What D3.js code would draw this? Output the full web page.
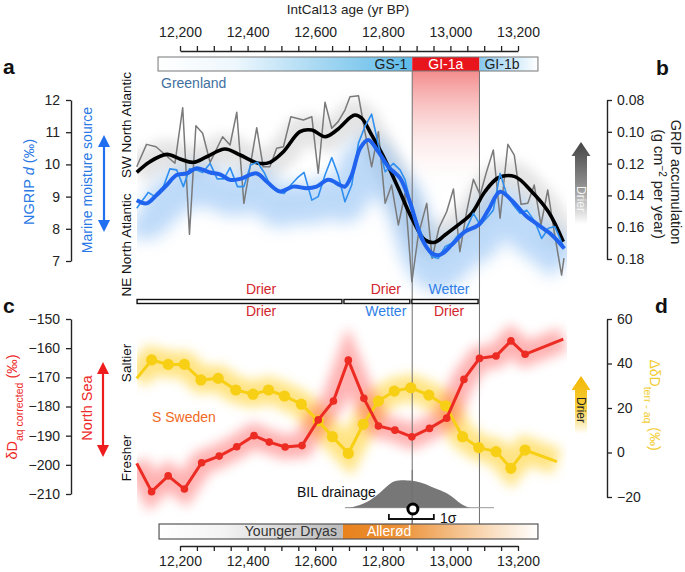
<!DOCTYPE html>
<html><head><meta charset="utf-8">
<script src="https://cdn.jsdelivr.net/npm/d3@7"></script>
<style>
body{margin:0;background:#fff}
svg text{font-family:"Liberation Sans",Arial,Helvetica,sans-serif}
</style>
</head><body>
<svg id="chart" width="685" height="572"></svg>
<script>
// ---------------- DATA ----------------
const axisTicks = d3.range(12200, 13201, 50);

// GRIP accumulation (raw, grey) – right axis b
const gripAges = [12072,12101,12129,12151,12185,12208,12228,12247,12267,12289,12326,12348,12368,12389,12427,12446,12466,12486,12506,12528,12565,12590,12609,12629,12649,12668,12688,12703,12728,12747,12767,12787,12807,12826,12846,12866,12886,12905,12930,12946,12966,12989,13009,13028,13048,13068,13088,13107,13127,13147,13170,13189,13209,13229,13248,13268,13288,13307,13329,13336];
const gripVals = [0.1220,0.1079,0.1094,0.1135,0.1198,0.0848,0.1645,0.0962,0.1009,0.1192,0.1031,0.1083,0.0877,0.1450,0.0974,0.1220,0.1220,0.1104,0.1094,0.0905,0.0926,0.0905,0.1261,0.0814,0.0978,0.0936,0.0863,0.0779,0.0773,0.0999,0.1220,0.0999,0.1450,0.1335,0.1586,0.1387,0.1943,0.1649,0.1450,0.1796,0.1605,0.1503,0.1360,0.1754,0.1503,0.1299,0.1397,0.1251,0.1114,0.1544,0.1079,0.1146,0.1456,0.1450,0.1335,0.1586,0.1366,0.1628,0.1901,0.1794];

// GRIP accumulation smoothed (black)
const gripSmAges = [12072,12111,12161,12200,12239,12279,12333,12378,12432,12466,12506,12555,12590,12629,12664,12703,12718,12738,12767,12807,12846,12886,12925,12954,12984,13023,13063,13102,13142,13191,13241,13290,13334];
const gripSmVals = [0.1255,0.1188,0.1142,0.1171,0.1192,0.1157,0.1108,0.1146,0.1198,0.1192,0.1125,0.0999,0.0989,0.1031,0.0989,0.0911,0.0894,0.0915,0.1020,0.1177,0.1355,0.1544,0.1681,0.1695,0.1649,0.1586,0.1513,0.1377,0.1289,0.1282,0.1377,0.1503,0.1691];

// NGRIP d-excess raw (thin blue) – left axis a
const ngripAges = [12072,12106,12126,12151,12170,12190,12210,12228,12247,12267,12289,12310,12330,12348,12370,12389,12409,12429,12449,12468,12488,12508,12528,12547,12567,12590,12609,12629,12649,12668,12688,12708,12728,12747,12767,12787,12807,12831,12851,12866,12886,12905,12925,12945,12964,12984,13004,13023,13043,13068,13088,13107,13127,13147,13167,13186,13206,13226,13250,13270,13290,13309,13337];
const ngripVals = [8.64,9.13,9.00,9.31,9.86,9.83,9.31,9.86,9.83,9.75,10.03,9.55,9.55,9.90,9.31,9.31,9.98,10.07,9.75,9.31,9.15,9.10,9.36,9.58,9.75,8.89,9.00,9.67,10.21,9.67,8.84,9.36,10.66,11.17,11.56,10.60,9.77,10.03,9.83,9.52,8.64,8.12,7.55,7.13,7.08,7.44,7.55,7.81,7.91,8.48,8.12,8.33,8.58,9.72,9.05,8.74,8.48,8.58,8.22,7.70,8.02,8.07,7.39];

// NGRIP d-excess smoothed (thick blue)
const ngripSmAges = [12072,12101,12131,12161,12190,12220,12249,12289,12318,12348,12378,12427,12457,12496,12535,12575,12604,12639,12673,12688,12708,12733,12757,12787,12816,12851,12880,12915,12945,12969,13004,13043,13083,13112,13147,13181,13221,13260,13300,13337];
const ngripSmVals = [8.89,8.79,9.05,9.36,9.67,9.72,9.88,9.75,9.69,9.52,9.55,9.72,9.46,9.16,9.31,9.26,9.31,9.52,9.36,9.31,9.67,10.50,10.76,10.39,9.93,9.57,8.84,7.70,7.24,7.19,7.50,7.91,8.12,8.58,9.15,8.89,8.43,8.12,7.81,7.39];

// dD aq corrected (red) – left axis c
const dDaqAges = [12072,12116,12165,12213,12264,12316,12368,12419,12464,12511,12561,12609,12654,12698,12744,12787,12836,12886,12938,12989,13040,13086,13135,13179,13221,13334];
const dDaqVals = [-199.5,-209.2,-203.8,-208.3,-199.3,-197.0,-193.8,-190.0,-192.2,-193.9,-193.4,-184.6,-178.1,-164.1,-177.2,-186.7,-188.1,-190.4,-187.5,-184.0,-170.7,-163.5,-162.7,-157.5,-162.1,-156.9];

// Delta dD terr-aq (yellow) – right axis d
const ddTerrAges = [12072,12116,12165,12213,12262,12313,12365,12416,12462,12509,12559,12609,12651,12698,12742,12787,12834,12883,12936,12986,13036,13084,13135,13179,13221,13315];
const ddTerrVals = [33.3,41.6,39.6,39.6,32.6,33.3,28.1,26.2,28.1,25.4,21.7,14.2,7.1,-0.4,12.7,23.1,27.6,29.1,25.8,21.0,7.1,2.2,0.4,-7.1,1.1,-4.1];

// BIL drainage age distribution
const bilAges = [12688,12712,12747,12777,12806,12830,12851,12889,12910,12940,12969,12990,13014,13034,13058];
const bilDensity = [0,0.02,0.15,0.38,0.71,0.96,1.0,0.98,0.92,0.78,0.63,0.53,0.31,0.10,0];
const bilBaseRange = [12688, 13129];
const bilAge = 12889, bilSigma = [12818, 12951];

// Event boundaries (GI-1a)
const eventLines = [12887, 13086];

// Stratigraphic bars
const topPeriodNames = ["GS-1","GI-1a","GI-1b"];
const topPeriodStart = [12135,12887,13086];
const topPeriodEnd   = [12887,13086,13259];
const botPeriodNames = ["Younger Dryas","Allerød"];
const botPeriodStart = [12138,12682];
const botPeriodEnd   = [12682,13259];

// Drier / Wetter segments
const segStart = [12073,12685,12886];
const segEnd   = [12679,12880,13082];
const segLabelAges = [12440,12809,12996];
const segUpper = ["Drier","Drier","Wetter"];
const segLower = ["Drier","Wetter","Drier"];

const ticksA = [7,8,9,10,11,12];
const ticksB = [0.08,0.10,0.12,0.14,0.16,0.18];
const ticksC = [-210,-200,-190,-180,-170,-160,-150];
const ticksD = [-20,0,20,40,60];

// ---------------- SCALES ----------------
const svg = d3.select("#chart");
const FONT = '"Liberation Sans",Arial,Helvetica,sans-serif';
const x  = d3.scaleLinear().domain([12200,13200]).range([180,518]);
const yA = d3.scaleLinear().domain([7,12]).range([261,100]);
const yB = d3.scaleLinear().domain([0.08,0.18]).range([100,259]);
const yC = d3.scaleLinear().domain([-210,-150]).range([494,319]);
const yD = d3.scaleLinear().domain([-20,60]).range([497,319]);
const yBil = d3.scaleLinear().domain([0,1]).range([507.7,480]);

const RED = "#ec2b23", YEL = "#f7cf14", BLUE = "#1f63ee", BLUE2 = "#2f8ff0";

// ---------------- DEFS ----------------
const defs = svg.append("defs");
function blur(id, sd){
  defs.append("filter").attr("id",id).attr("filterUnits","userSpaceOnUse")
    .attr("x",0).attr("y",0).attr("width",685).attr("height",572)
    .append("feGaussianBlur").attr("stdDeviation",sd);
}
blur("b6",6); blur("b8",8); blur("b5",5);
defs.append("clipPath").attr("id","plotclip").append("rect")
  .attr("x",137).attr("y",60).attr("width",430).attr("height",470);
function lgrad(id, stops, vertical){
  const g = defs.append("linearGradient").attr("id",id)
    .attr("x1",0).attr("y1",0).attr("x2",vertical?0:1).attr("y2",vertical?1:0);
  stops.forEach(s=>g.append("stop").attr("offset",s[0]).attr("stop-color",s[1]).attr("stop-opacity",s[2]===undefined?1:s[2]));
}
lgrad("gGS1",[[0,"#ffffff"],[0.3,"#eef7fd"],[0.62,"#aad9f3"],[1,"#5cbbe9"]]);
lgrad("gGI1b",[[0,"#86c8ee"],[0.5,"#c6e6f8"],[1,"#ffffff"]]);
lgrad("gYD",[[0,"#ffffff"],[0.35,"#f3f3f3"],[1,"#bcbcbc"]]);
lgrad("gAll",[[0,"#e8821d"],[0.3,"#ec9238"],[0.75,"#f9dcbc"],[1,"#ffffff"]]);
lgrad("gRedBox",[[0,"#f06666",0.75],[0.55,"#f8c0c0",0.35],[1,"#ffffff",0]],true);
lgrad("gGrayArrow",[[0,"#444444"],[0.5,"#8a8a8a"],[1,"#ffffff"]],true);
lgrad("gYelArrow",[[0,"#f2b600"],[0.55,"#f7cf40"],[1,"#ffffff"]],true);

// ---------------- TOP AXIS + BAR ----------------
const fmt = d3.format(",");
function styleAxis(g){
  g.select(".domain").attr("stroke","#222").attr("stroke-width",1.4);
  g.selectAll(".tick line").attr("stroke","#222").attr("stroke-width",1.3);
  g.selectAll(".tick text").attr("fill","#222").style("font-size","14px").style("font-family",FONT);
}
svg.append("g").attr("transform","translate(0,51)")
  .call(d3.axisTop(x).tickValues(axisTicks).tickFormat(d=>d%200===0?fmt(d):"").tickSize(5).tickSizeOuter(0).tickPadding(9))
  .call(styleAxis);
svg.append("text").attr("x",348).attr("y",14).attr("text-anchor","middle")
  .style("font-size","13.5px").attr("fill","#222").text("IntCal13 age (yr BP)");

// red shaded GI-1a region
svg.append("rect").attr("x",x(eventLines[0])).attr("width",x(eventLines[1])-x(eventLines[0]))
  .attr("y",71).attr("height",125).attr("fill","url(#gRedBox)");

const topFills = ["url(#gGS1)","#e8161c","url(#gGI1b)"];
svg.append("g").selectAll("rect").data(topPeriodNames).join("rect")
  .attr("x",(d,i)=>x(topPeriodStart[i])).attr("width",(d,i)=>x(topPeriodEnd[i])-x(topPeriodStart[i]))
  .attr("y",57).attr("height",14).attr("fill",(d,i)=>topFills[i]);
svg.append("rect").attr("x",x(topPeriodStart[0])).attr("y",57)
  .attr("width",x(topPeriodEnd[2])-x(topPeriodStart[0])).attr("height",14)
  .attr("fill","none").attr("stroke","#777").attr("stroke-width",1);
svg.append("text").attr("x",x(topPeriodEnd[0])-5).attr("y",69).attr("text-anchor","end")
  .style("font-size","14px").attr("fill","#222").text(topPeriodNames[0]);
svg.append("text").attr("x",(x(topPeriodStart[1])+x(topPeriodEnd[1]))/2).attr("y",69).attr("text-anchor","middle")
  .style("font-size","14px").attr("fill","#fff").text(topPeriodNames[1]);
svg.append("text").attr("x",x(topPeriodStart[2])+5).attr("y",69)
  .style("font-size","14px").attr("fill","#222").text(topPeriodNames[2]);

// ---------------- PANEL A/B ----------------
const glow = svg.append("g").attr("clip-path","url(#plotclip)");
const lineB = d3.line().x(d=>x(d[0])).y(d=>yB(d[1]));
const lineA = d3.line().x(d=>x(d[0])).y(d=>yA(d[1]));
const gripSm = gripSmAges.map((a,i)=>[a,gripSmVals[i]]);
const ngripSm = ngripSmAges.map((a,i)=>[a,ngripSmVals[i]]);
glow.append("path").attr("d",lineB.curve(d3.curveCatmullRom)(gripSm))
  .attr("fill","none").attr("stroke","#b0b0b0").attr("stroke-width",30).attr("opacity",0.33).attr("filter","url(#b6)");
glow.append("path").attr("d",lineA.curve(d3.curveCatmullRom)(ngripSm)).attr("transform","translate(0,16)")
  .attr("fill","none").attr("stroke","#7db5f3").attr("stroke-width",40).attr("opacity",0.5).attr("filter","url(#b8)");

// event vertical lines
svg.append("g").selectAll("line").data(eventLines).join("line")
  .attr("x1",d=>x(d)).attr("x2",d=>x(d)).attr("y1",71).attr("y2",538)
  .attr("stroke","#6f6f6f").attr("stroke-width",1);

svg.append("path").attr("d",lineB.curve(d3.curveLinear)(gripAges.map((a,i)=>[a,gripVals[i]])))
  .attr("fill","none").attr("stroke","#7a7a7a").attr("stroke-width",1.5).attr("stroke-linejoin","round");
svg.append("path").attr("d",lineB.curve(d3.curveCatmullRom)(gripSm))
  .attr("fill","none").attr("stroke","#000").attr("stroke-width",3.6).attr("stroke-linejoin","round");
svg.append("path").attr("d",lineA.curve(d3.curveLinear)(ngripAges.map((a,i)=>[a,ngripVals[i]])))
  .attr("fill","none").attr("stroke",BLUE2).attr("stroke-width",1.6).attr("stroke-linejoin","round");
svg.append("path").attr("d",lineA.curve(d3.curveCatmullRom)(ngripSm))
  .attr("fill","none").attr("stroke",BLUE).attr("stroke-width",4).attr("stroke-linejoin","round");

// axes a, b
svg.append("g").attr("transform","translate(71,0)")
  .call(d3.axisLeft(yA).tickValues(ticksA).tickFormat(d3.format("d")).tickSize(5).tickSizeOuter(0).tickPadding(6)).call(styleAxis);
svg.append("g").attr("transform","translate(607,0)")
  .call(d3.axisRight(yB).tickValues(ticksB).tickFormat(d3.format(".2f")).tickSize(5).tickSizeOuter(0).tickPadding(5)).call(styleAxis);

// texts
function rtext(x0,y0,ang,size,fill,parts,anchor){
  const t = svg.append("text").attr("transform",`translate(${x0},${y0}) rotate(${ang})`)
    .attr("text-anchor",anchor||"middle").style("font-size",size+"px").attr("fill",fill);
  parts.forEach(p=>{
    const s = t.append("tspan").text(p.t);
    if(p.italic) s.style("font-style","italic");
    if(p.sub){ s.attr("baseline-shift","sub").style("font-size",(p.size||10)+"px"); }
    if(p.sup){ s.attr("baseline-shift","super").style("font-size",(p.size||10)+"px"); }
  });
  return t;
}
svg.append("text").attr("x",3).attr("y",74).style("font-size","21px").style("font-weight","bold").attr("fill","#111").text("a");
svg.append("text").attr("x",656).attr("y",75).style("font-size","21px").style("font-weight","bold").attr("fill","#111").text("b");
svg.append("text").attr("x",3).attr("y",313).style("font-size","21px").style("font-weight","bold").attr("fill","#111").text("c");
svg.append("text").attr("x",655).attr("y",313).style("font-size","21px").style("font-weight","bold").attr("fill","#111").text("d");

svg.append("text").attr("x",161).attr("y",88).style("font-size","14px").attr("fill","#3f6f9f").text("Greenland");
rtext(34,182,-90,14.5,"#2a78e4",[{t:"NGRIP "},{t:"d",italic:true},{t:" (‰)"}]);
rtext(92,180,-90,14,"#2a78e4",[{t:"Marine moisture source"}]);
rtext(131,125,-90,13.5,"#111",[{t:"SW North Atlantic"}]);
rtext(131,245,-90,13.5,"#111",[{t:"NE North Atlantic"}]);
rtext(671,182,90,14.5,"#222",[{t:"GRIP accumulation"}]);
rtext(654,184,90,14.5,"#222",[{t:"(g cm"},{t:"−2",sup:true},{t:" per year)"}]);

// double arrows
function dblArrow(xc,y1,y2,col){
  const g = svg.append("g");
  g.append("line").attr("x1",xc).attr("x2",xc).attr("y1",y1+6).attr("y2",y2-6).attr("stroke",col).attr("stroke-width",2.2);
  g.append("path").attr("d",`M${xc},${y1}L${xc-6},${y1+12}L${xc+6},${y1+12}Z`).attr("fill",col);
  g.append("path").attr("d",`M${xc},${y2}L${xc-6},${y2-12}L${xc+6},${y2-12}Z`).attr("fill",col);
}
dblArrow(104,135,232,"#1f6ff0");
dblArrow(103,362,457,"#ee1c1c");

// block arrows
function blockArrow(xc,yTip,yBase,fill){
  svg.append("path").attr("d",`M${xc},${yTip}L${xc+9.5},${yTip+14}L${xc+6},${yTip+14}L${xc+6},${yBase}L${xc-6},${yBase}L${xc-6},${yTip+14}L${xc-9.5},${yTip+14}Z`)
    .attr("fill",fill);
}
blockArrow(581,142,224,"url(#gGrayArrow)");
rtext(576.5,199,90,12,"#f4f4f4",[{t:"Drier"}]);
blockArrow(581,376,434,"url(#gYelArrow)");
rtext(576.5,410,90,12,"#222",[{t:"Drier"}]);

// Drier / Wetter bars
const segG = svg.append("g");
segG.selectAll("rect").data(segStart).join("rect")
  .attr("x",(d,i)=>x(segStart[i])).attr("width",(d,i)=>x(segEnd[i])-x(segStart[i]))
  .attr("y",299.5).attr("height",4).attr("fill","#fff").attr("stroke","#111").attr("stroke-width",1.4);
const colFor = s => s==="Drier" ? "#d3262c" : "#2f80e6";
segG.selectAll("text.up").data(segUpper).join("text").attr("class","up")
  .attr("x",(d,i)=>x(segLabelAges[i])).attr("y",294).attr("text-anchor","middle")
  .style("font-size","14px").attr("fill",d=>colFor(d)).text(d=>d);
segG.selectAll("text.lo").data(segLower).join("text").attr("class","lo")
  .attr("x",(d,i)=>x(segLabelAges[i])).attr("y",316).attr("text-anchor","middle")
  .style("font-size","14px").attr("fill",d=>colFor(d)).text(d=>d);

// ---------------- PANEL C/D ----------------
const lineC = d3.line().x(d=>x(d[0])).y(d=>yC(d[1]));
const lineD = d3.line().x(d=>x(d[0])).y(d=>yD(d[1]));
const red = dDaqAges.map((a,i)=>[a,dDaqVals[i]]);
const yel = ddTerrAges.map((a,i)=>[a,ddTerrVals[i]]);
glow.append("path").attr("d",lineD(yel)).attr("fill","none").attr("stroke","#ffd230")
  .attr("stroke-width",26).attr("opacity",0.6).attr("filter","url(#b6)");
glow.append("path").attr("d",lineC(red)).attr("fill","none").attr("stroke","#ff4a4a")
  .attr("stroke-width",24).attr("opacity",0.42).attr("filter","url(#b6)");

svg.append("path").attr("d",lineD(yel)).attr("fill","none").attr("stroke",YEL).attr("stroke-width",3);
svg.append("g").selectAll("circle").data(yel.slice(1,-1)).join("circle")
  .attr("cx",d=>x(d[0])).attr("cy",d=>yD(d[1])).attr("r",5.6).attr("fill",YEL);
svg.append("path").attr("d",lineC(red)).attr("fill","none").attr("stroke",RED).attr("stroke-width",3);
svg.append("g").selectAll("circle").data(red.slice(1,-1)).join("circle")
  .attr("cx",d=>x(d[0])).attr("cy",d=>yC(d[1])).attr("r",3.8).attr("fill",RED);

svg.append("g").attr("transform","translate(71,0)")
  .call(d3.axisLeft(yC).tickValues(ticksC).tickSize(5).tickSizeOuter(0).tickPadding(6)).call(styleAxis);
svg.append("g").attr("transform","translate(607,0)")
  .call(d3.axisRight(yD).tickValues(ticksD).tickSize(5).tickSizeOuter(0).tickPadding(5)).call(styleAxis);

rtext(17,407,-90,14.5,"#ee2a2a",[{t:"δD"},{t:"aq corrected",sub:true,size:10.5},{t:" (‰)"}]);
rtext(92,408,-90,14.5,"#ee2a2a",[{t:"North Sea"}]);
rtext(131,363,-90,13.5,"#111",[{t:"Saltier"}]);
rtext(131,458,-90,13.5,"#111",[{t:"Fresher"}]);
rtext(650,405,90,14,"#f2cc30",[{t:"ΔδD"},{t:"terr - aq",sub:true,size:10.5},{t:" (‰)"}]);
svg.append("text").attr("x",152).attr("y",422).style("font-size","14px").attr("fill","#ef6a22").text("S Sweden");

// BIL drainage
svg.append("line").attr("x1",x(bilBaseRange[0])).attr("x2",x(bilBaseRange[1]))
  .attr("y1",yBil(0)).attr("y2",yBil(0)).attr("stroke","#999").attr("stroke-width",1);
svg.append("path").attr("d",d3.area().x((d,i)=>x(bilAges[i])).y0(yBil(0)).y1(d=>yBil(d)).curve(d3.curveBasis)(bilDensity))
  .attr("fill","#777");
svg.append("line").attr("x1",x(eventLines[0])).attr("x2",x(eventLines[0])).attr("y1",470).attr("y2",538)
  .attr("stroke","#6f6f6f").attr("stroke-width",1);
svg.append("text").attr("x",297).attr("y",497).style("font-size","14px").attr("fill","#111").text("BIL drainage");
const sg = svg.append("g").attr("stroke","#111").attr("stroke-width",1.8).attr("fill","none");
sg.append("path").attr("d",`M${x(bilSigma[0])},514V519H${x(bilSigma[1])}V514`);
svg.append("circle").attr("cx",x(bilAge)).attr("cy",509).attr("r",5).attr("fill","#fff").attr("stroke","#000").attr("stroke-width",3);
svg.append("text").attr("x",440).attr("y",523).style("font-size","14px").attr("fill","#111").text("1σ");

// bottom bar
const botFills = ["url(#gYD)","url(#gAll)"];
svg.append("g").selectAll("rect").data(botPeriodNames).join("rect")
  .attr("x",(d,i)=>x(botPeriodStart[i])).attr("width",(d,i)=>x(botPeriodEnd[i])-x(botPeriodStart[i]))
  .attr("y",524).attr("height",15).attr("fill",(d,i)=>botFills[i]);
svg.append("rect").attr("x",x(botPeriodStart[0])).attr("y",524)
  .attr("width",x(botPeriodEnd[1])-x(botPeriodStart[0])).attr("height",15)
  .attr("fill","none").attr("stroke","#555").attr("stroke-width",1.2);
svg.append("text").attr("x",x(botPeriodEnd[0])-6).attr("y",536).attr("text-anchor","end")
  .style("font-size","14px").attr("fill","#333").text(botPeriodNames[0]);
svg.append("text").attr("x",x(botPeriodStart[1])+24).attr("y",536)
  .style("font-size","14px").attr("fill","#fff").text(botPeriodNames[1]);

svg.append("g").attr("transform","translate(0,546)")
  .call(d3.axisBottom(x).tickValues(axisTicks).tickFormat(d=>d%200===0?fmt(d):"").tickSize(5).tickSizeOuter(0).tickPadding(5))
  .call(styleAxis);
</script>
</body></html>
